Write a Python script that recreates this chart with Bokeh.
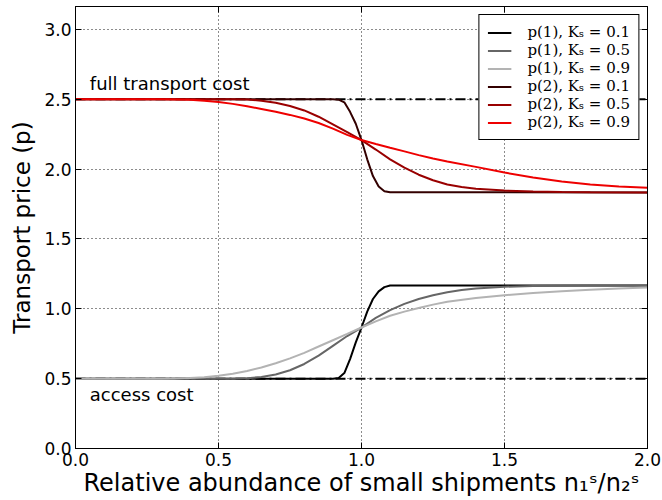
from bokeh.plotting import figure
from bokeh.models import (Range1d, FixedTicker, PrintfTickFormatter, LinearAxis, Span, Label,
                          Legend, LegendItem, CustomJSTickFormatter)
from bokeh.embed import file_html
from bokeh.resources import INLINE

# ---------------- data ----------------
x_k01 = [0.0, 0.90, 0.92, 0.94, 0.96, 0.98, 1.00, 1.02, 1.04, 1.06, 1.08, 1.10, 2.0]
p1_k01 = [0.5, 0.5, 0.505, 0.54, 0.64, 0.76, 0.866, 0.98, 1.07, 1.125, 1.155, 1.167, 1.167]
p2_k01 = [2.5, 2.5, 2.497, 2.478, 2.41, 2.325, 2.208, 2.07, 1.95, 1.875, 1.842, 1.834, 1.833]

x_k05 = [0.0, 0.55, 0.6, 0.65, 0.7, 0.75, 0.8, 0.85, 0.9, 0.95, 1.0, 1.05, 1.1, 1.15,
         1.2, 1.25, 1.3, 1.35, 1.4, 1.5, 1.6, 1.7, 1.8, 2.0]
p1_k05 = [0.5, 0.5, 0.503, 0.512, 0.53, 0.56, 0.605, 0.665, 0.735, 0.805, 0.866, 0.935,
          0.99, 1.035, 1.07, 1.097, 1.118, 1.134, 1.146, 1.158, 1.163, 1.165, 1.166, 1.167]
p2_k05 = [2.5, 2.5, 2.498, 2.49, 2.475, 2.452, 2.42, 2.375, 2.32, 2.265, 2.208, 2.14,
          2.07, 2.01, 1.96, 1.92, 1.89, 1.872, 1.86, 1.846, 1.84, 1.836, 1.834, 1.833]

x_k09 = [0.0, 0.3, 0.35, 0.4, 0.45, 0.5, 0.55, 0.6, 0.65, 0.7, 0.75, 0.8, 0.85, 0.9, 0.95,
         1.0, 1.05, 1.1, 1.15, 1.2, 1.25, 1.3, 1.4, 1.5, 1.6, 1.7, 1.8, 1.9, 2.0]
p1_k09 = [0.5, 0.5, 0.501, 0.504, 0.51, 0.52, 0.535, 0.555, 0.58, 0.61, 0.645, 0.685, 0.73,
          0.775, 0.82, 0.866, 0.91, 0.95, 0.98, 1.006, 1.03, 1.05, 1.077, 1.097, 1.113,
          1.126, 1.137, 1.145, 1.152]
p2_k09 = [2.5, 2.5, 2.499, 2.497, 2.49, 2.48, 2.467, 2.45, 2.43, 2.41, 2.388, 2.362, 2.33,
          2.29, 2.245, 2.208, 2.18, 2.153, 2.127, 2.1, 2.076, 2.055, 2.016, 1.975, 1.94,
          1.912, 1.89, 1.876, 1.866]

full_transport_cost = 2.5
access_cost = 0.5

x_ticks = [0.0, 0.5, 1.0, 1.5, 2.0]
y_ticks = [0.0, 0.5, 1.0, 1.5, 2.0, 2.5, 3.0]

series = [
    ("p(1), K\u209b = 0.1", x_k01, p1_k01, "#000000"),
    ("p(1), K\u209b = 0.5", x_k05, p1_k05, "#666666"),
    ("p(1), K\u209b = 0.9", x_k09, p1_k09, "#b3b3b3"),
    ("p(2), K\u209b = 0.1", x_k01, p2_k01, "#330000"),
    ("p(2), K\u209b = 0.5", x_k05, p2_k05, "#990000"),
    ("p(2), K\u209b = 0.9", x_k09, p2_k09, "#ee0000"),
]

# ---------------- figure ----------------
p = figure(width=662, height=500, x_range=Range1d(0, 2), y_range=Range1d(0, 3.164),
           output_backend="svg", toolbar_location=None,
           min_border_left=75, min_border_right=15, min_border_top=6, min_border_bottom=52)
p.background_fill_color = "white"
p.border_fill_color = "white"
p.outline_line_color = "black"
p.outline_line_width = 1

font = "DejaVu Sans"
for ax, ticks in ((p.xaxis[0], x_ticks), (p.yaxis[0], y_ticks)):
    ax.ticker = FixedTicker(ticks=ticks)
    ax.formatter = PrintfTickFormatter(format="%.1f")
    ax.major_tick_in = 6
    ax.major_tick_out = 0
    ax.minor_tick_line_color = None
    ax.axis_line_color = "black"
    ax.major_tick_line_color = "black"
    ax.major_label_text_font = font
    ax.major_label_text_font_size = "17px"
    ax.major_label_text_color = "black"
    ax.axis_label_text_font = font
    ax.axis_label_text_font_style = "normal"
    ax.axis_label_text_color = "black"

p.xaxis[0].axis_label_text_font_size = "24px"
p.yaxis[0].axis_label_text_font_size = "23px"
p.xaxis[0].major_label_standoff = 4
p.yaxis[0].major_label_standoff = 4
p.xaxis[0].axis_label_standoff = 0
p.yaxis[0].axis_label_standoff = 6
p.xaxis[0].axis_label = "Relative abundance of small shipments n\u2081\u02e2/n\u2082\u02e2"
p.yaxis[0].axis_label = "Transport price (p)"

blank = CustomJSTickFormatter(code="return ''")
for loc, ticks in (("right", y_ticks), ("above", x_ticks)):
    a = LinearAxis(ticker=FixedTicker(ticks=ticks), formatter=blank,
                   major_tick_in=6, major_tick_out=0, minor_tick_line_color=None,
                   major_label_standoff=0, axis_line_color="black",
                   major_label_text_font_size="1px")
    p.add_layout(a, loc)

for g, ticks in ((p.xgrid[0], x_ticks), (p.ygrid[0], y_ticks)):
    g.ticker = FixedTicker(ticks=ticks)
    g.grid_line_color = "black"
    g.grid_line_dash = "1 3"
    g.grid_line_width = 1
    g.grid_line_alpha = 0.9

for level_val in (full_transport_cost, access_cost):
    s = Span(location=level_val, dimension="width", line_color="black",
             line_width=2, line_dash="10 4 2 4", level="underlay")
    p.add_layout(s)

items = []
for label, xs, ys, color in series:
    r = p.line(xs, ys, line_color=color, line_width=2)
    items.append(LegendItem(label=label, renderers=[r]))

legend = Legend(items=items, location="top_right")
legend.border_line_color = "black"
legend.border_line_width = 1
legend.border_line_alpha = 1
legend.background_fill_color = "white"
legend.background_fill_alpha = 1
legend.label_text_font = "DejaVu Serif"
legend.label_text_font_size = "15px"
legend.label_text_color = "black"
legend.glyph_width = 24
legend.glyph_height = 15
legend.label_height = 15
legend.spacing = 0
legend.padding = 8
legend.margin = 8
legend.label_standoff = 16
p.add_layout(legend)

p.add_layout(Label(x=0.05, y=2.61, text="full transport cost", text_font=font,
                   text_font_size="18px", text_color="black", text_baseline="alphabetic"))
p.add_layout(Label(x=0.05, y=0.39, text="access cost", text_font=font,
                   text_font_size="18px", text_color="black", text_baseline="alphabetic"))

open("out.html", "w").write(file_html(p, INLINE))
